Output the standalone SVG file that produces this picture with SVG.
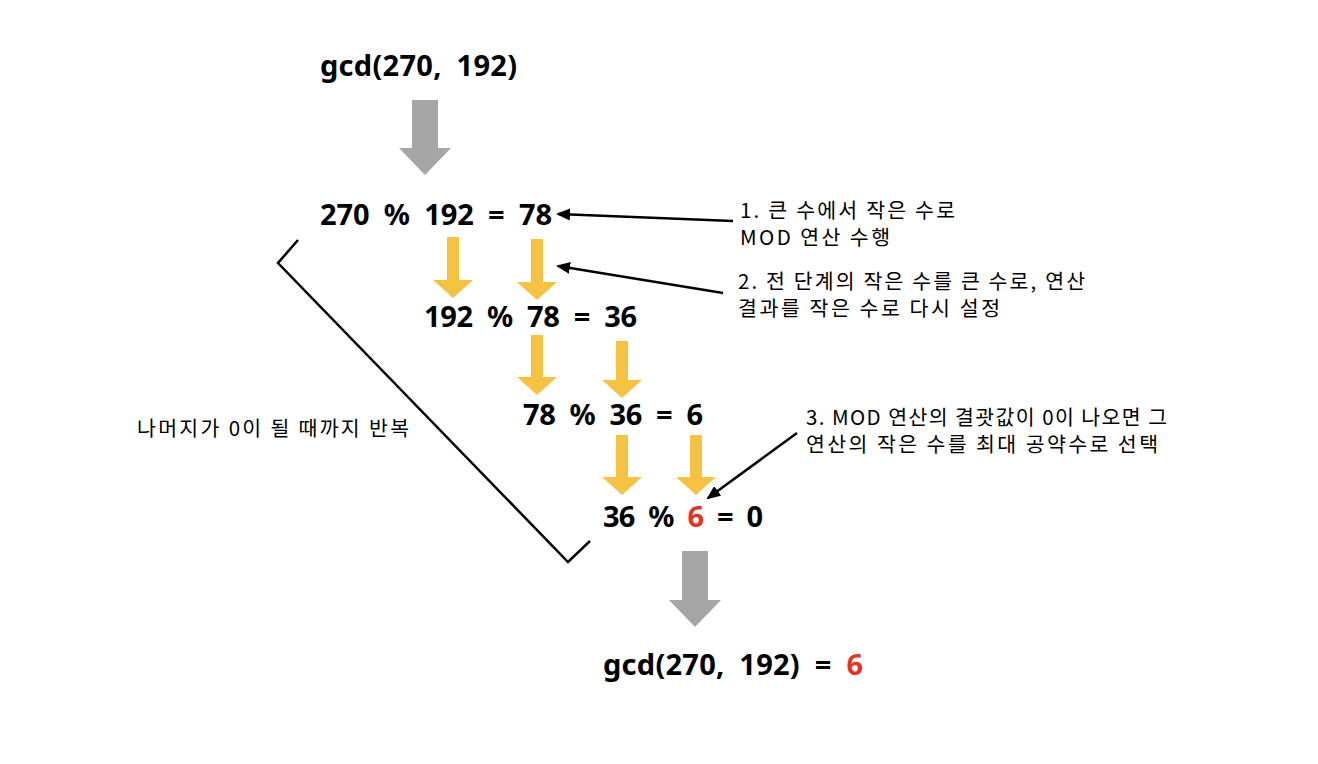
<svg xmlns="http://www.w3.org/2000/svg" width="1318" height="764" viewBox="0 0 1318 764">
<style>
.eq{font-family:"Noto Sans","Noto Sans CJK KR",sans-serif;font-weight:bold;font-size:29px;fill:#000;word-spacing:7px}
.note{font-family:"Noto Sans CJK KR","Noto Sans",sans-serif;font-size:20.5px;fill:#000}
.red{fill:#e8311f}
.y{fill:#f5c242}
.g{fill:#a6a6a6}
.ln{stroke:#000;stroke-width:2.5;fill:none}
</style>
<defs>
<marker id="ah2" markerWidth="14" markerHeight="12" refX="12" refY="6" orient="auto" markerUnits="userSpaceOnUse"><path d="M0,0 L14,6 L0,12 z" fill="#000"/></marker>
</defs>
<g id="n-start"><text class="eq" x="320" y="76" textLength="197" lengthAdjust="spacing">gcd(270, 192)</text></g>
<g id="n-step1"><text class="eq" x="320" y="225" textLength="232" lengthAdjust="spacing">270 % 192 = 78</text></g>
<g id="n-step2"><text class="eq" x="424" y="327" textLength="213" lengthAdjust="spacing">192 % 78 = 36</text></g>
<g id="n-step3"><text class="eq" x="523" y="425" textLength="180" lengthAdjust="spacing">78 % 36 = 6</text></g>
<g id="n-step4"><text class="eq" x="603" y="527" textLength="160" lengthAdjust="spacing">36 % <tspan class="red">6</tspan> = 0</text></g>
<g id="n-result"><text class="eq" x="603" y="675" textLength="260" lengthAdjust="spacing">gcd(270, 192) = <tspan class="red">6</tspan></text></g>
<g id="n-note1"><text class="note" x="740" y="218" textLength="215" lengthAdjust="spacing">1. 큰 수에서 작은 수로</text><text class="note" x="740" y="245" textLength="150" lengthAdjust="spacing">MOD 연산 수행</text></g>
<g id="n-note2"><text class="note" x="738" y="289" textLength="347" lengthAdjust="spacing">2. 전 단계의 작은 수를 큰 수로, 연산</text><text class="note" x="738" y="316" textLength="262" lengthAdjust="spacing">결과를 작은 수로 다시 설정</text></g>
<g id="n-note3"><text class="note" x="806" y="425" textLength="361" lengthAdjust="spacing">3. MOD 연산의 결괏값이 0이 나오면 그</text><text class="note" x="806" y="452" textLength="352" lengthAdjust="spacing">연산의 작은 수를 최대 공약수로 선택</text></g>
<g id="n-loop"><text class="note" x="137" y="436" textLength="272" lengthAdjust="spacing">나머지가 0이 될 때까지 반복</text></g>
<g id="connectors">
<path class="g" d="M412,100 H438 V148 H451 L425,175 L399,148 H412 Z"/>
<path class="g" d="M682,551 H708 V600 H721 L695,627 L669,600 H682 Z"/>
<g class="y">
<path d="M447,237 H459 V280 H473 L453,298 L433,280 H447 Z"/>
<path d="M531,239 H543 V282 H557 L537,300 L517,282 H531 Z"/>
<path d="M531,335 H543 V377 H557 L537,395 L517,377 H531 Z"/>
<path d="M616,341 H628 V380 H642 L622,398 L602,380 H616 Z"/>
<path d="M616,435 H628 V477 H642 L622,495 L602,477 H616 Z"/>
<path d="M690,435 H702 V477 H716 L696,495 L676,477 H690 Z"/>
</g>
<path class="ln" d="M298,240 L278,263 L568,562 L590,541"/>
<line x1="733" y1="221" x2="558" y2="214" stroke="#000" stroke-width="2.5" marker-end="url(#ah2)"/>
<line x1="723" y1="293" x2="558" y2="266" stroke="#000" stroke-width="2.5" marker-end="url(#ah2)"/>
<line x1="797" y1="433" x2="708" y2="498" stroke="#000" stroke-width="2.5" marker-end="url(#ah2)"/>
</g>
</svg>
